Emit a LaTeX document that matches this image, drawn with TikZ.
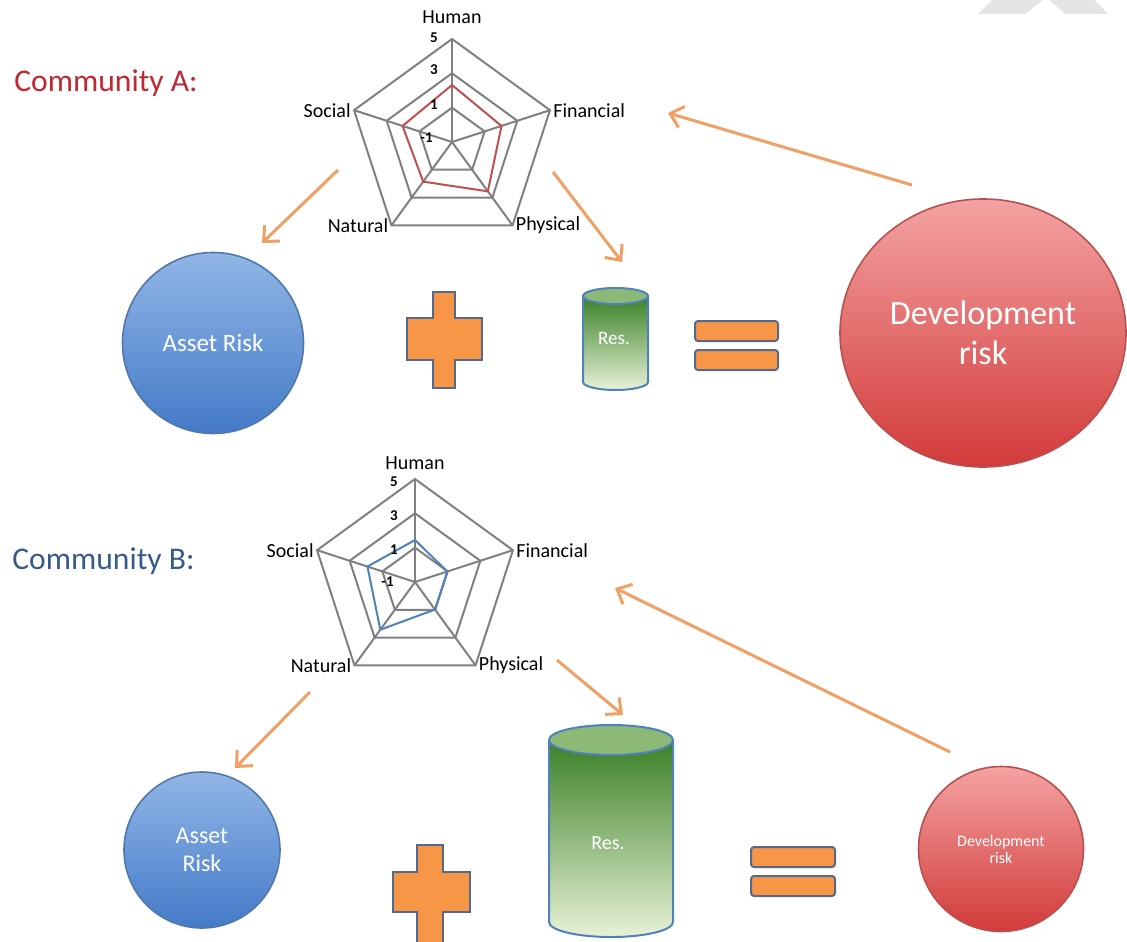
\documentclass[tikz,border=0pt]{standalone}
\usepackage{fontspec}
\setmainfont{Carlito}
\usetikzlibrary{arrows.meta,shapes.geometric}
\definecolor{gridgray}{RGB}{128,128,128}
\definecolor{serred}{RGB}{192,80,77}
\definecolor{serblue}{RGB}{79,129,189}
\definecolor{arrorange}{RGB}{240,160,100}
\definecolor{plusorange}{RGB}{247,150,70}
\definecolor{plusedge}{RGB}{85,105,140}
\definecolor{bluetop}{RGB}{145,182,230}
\definecolor{bluebot}{RGB}{68,122,200}
\definecolor{blueedge}{RGB}{80,120,170}
\definecolor{redtop}{RGB}{244,162,162}
\definecolor{redbot}{RGB}{210,58,58}
\definecolor{rededge}{RGB}{185,80,80}
\definecolor{greentop}{RGB}{58,128,38}
\definecolor{greenbot}{RGB}{232,242,216}
\definecolor{greencap}{RGB}{140,185,118}
\definecolor{cyledge}{RGB}{79,129,189}
\definecolor{commA}{RGB}{192,40,50}
\definecolor{commB}{RGB}{55,90,140}
\definecolor{wmgray}{RGB}{228,228,228}
\begin{document}
\begin{tikzpicture}[x=0.5pt,y=-0.5pt,
  gridline/.style={draw=gridgray, line width=1pt},
  axlab/.style={font=\fontsize{10}{12}\selectfont, inner sep=1.5pt},
  ticklab/.style={font=\fontsize{7.5}{8}\selectfont\bfseries, anchor=east, inner sep=0.5pt},
  arr/.style={draw=arrorange, line width=1.5pt, -{Straight Barb[length=6pt,width=11pt]}},
  bluecirc/.style={circle, draw=blueedge, line width=0.8pt, top color=bluetop, bottom color=bluebot, text=white, align=center, inner sep=0pt},
  redcirc/.style={ellipse, draw=rededge, line width=0.8pt, top color=redtop, bottom color=redbot, text=white, align=center, inner sep=0pt},
  opshape/.style={fill=plusorange, draw=plusedge, line width=1pt},
  cylbody/.style={top color=greentop, bottom color=greenbot, draw=cyledge, line width=1pt},
  cylcap/.style={fill=greencap, draw=cyledge, line width=1pt},
  restext/.style={text=white, inner sep=0pt},
  commlab/.style={anchor=west, font=\fontsize{15.8}{18}\selectfont, inner sep=0pt}
]
\useasboundingbox[fill=white] (0,0) rectangle (1127,941);

% faint watermark remnants (top right)
\fill[wmgray] (992,0) -- (978,14) -- (1025,14) -- (1043,0) -- cycle;
\fill[wmgray] (1049,0) -- (1066,14) -- (1108,14) -- (1094,0) -- cycle;

% community labels
\node[commlab, text=commA] (cA) at (14,83) {Community A:};
\node[commlab, text=commB] (cB) at (12,561) {Community B:};

% ---------- radar A ----------
\begin{scope}[shift={(452,142)}]
  \foreach \r in {34.3,68.7,103}
    \draw[gridline] (-90:\r) -- (-18:\r) -- (54:\r) -- (126:\r) -- (198:\r) -- cycle;
  \foreach \a in {-90,-18,54,126,198}
    \draw[gridline] (0,0) -- (\a:103);
  \draw[serred, line width=1pt] (-90:57) -- (-18:52) -- (54:61) -- (126:49) -- (198:52) -- cycle;
  \node[axlab] (hA) at (0,-125) {Human};
  \node[axlab, anchor=west] (fA) at (-18:103) {Financial};
  \node[axlab, anchor=west] (pA) at (54:103) {Physical};
  \node[axlab, anchor=east] (nA) at (126:103) {Natural};
  \node[axlab, anchor=east] (sA) at (198:103) {Social};
  \node[ticklab] (t5A) at (-13,-104) {5};
  \node[ticklab] (t3A) at (-13,-72) {3};
  \node[ticklab] (t1A) at (-13,-37) {1};
  \node[ticklab] (tm1A) at (-18,-4) {-1};
\end{scope}

% ---------- radar B ----------
\begin{scope}[shift={(415,582)}]
  \foreach \r in {34.3,68.7,103}
    \draw[gridline] (-90:\r) -- (-18:\r) -- (54:\r) -- (126:\r) -- (198:\r) -- cycle;
  \foreach \a in {-90,-18,54,126,198}
    \draw[gridline] (0,0) -- (\a:103);
  \draw[serblue, line width=1pt] (-90:42) -- (-18:34) -- (54:34) -- (126:59) -- (198:50) -- cycle;
  \node[axlab] (hB) at (0,-119) {Human};
  \node[axlab, anchor=west] (fB) at (-18:103) {Financial};
  \node[axlab, anchor=west] (pB) at (54:103) {Physical};
  \node[axlab, anchor=east] (nB) at (126:103) {Natural};
  \node[axlab, anchor=east] (sB) at (198:103) {Social};
  \node[ticklab] (t5B) at (-16,-100) {5};
  \node[ticklab] (t3B) at (-16,-66) {3};
  \node[ticklab] (t1B) at (-16,-32) {1};
  \node[ticklab] (tm1B) at (-20,0) {-1};
\end{scope}

% ---------- row A ----------
\node[bluecirc, minimum size=90.5pt, font=\fontsize{12.5}{15}\selectfont] (arA) at (213,343) {Asset Risk};
\draw[opshape] (433,292) -- (455,292) -- (455,318) -- (482,318) -- (482,360) -- (455,360)
  -- (455,388) -- (433,388) -- (433,360) -- (407,360) -- (407,318) -- (433,318) -- cycle;
\shade[cylbody] (583,296) -- (583,382) arc[start angle=180, end angle=360, x radius=16.25pt, y radius=4pt] -- (648,296) -- cycle;
\draw[cylcap] (615.5,296) ellipse [x radius=16.25pt, y radius=4pt];
\node[restext, font=\fontsize{9.5}{11}\selectfont] (resA) at (614,338) {Res.};
\draw[opshape, rounded corners=1.5pt] (695,321) rectangle (778,341);
\draw[opshape, rounded corners=1.5pt] (695,350) rectangle (778,370);
\node[redcirc, minimum width=143pt, minimum height=134pt, font=\fontsize{17}{20}\selectfont] (drA) at (983,333) {Development\\risk};

% ---------- row B ----------
\node[bluecirc, minimum size=78pt, font=\fontsize{12}{14}\selectfont] (arB) at (202,850) {Asset\\Risk};
\draw[opshape] (417,845) -- (443,845) -- (443,872) -- (470,872) -- (470,912) -- (443,912)
  -- (443,952) -- (417,952) -- (417,912) -- (393,912) -- (393,872) -- (417,872) -- cycle;
\shade[cylbody] (549,740) -- (549,922) arc[start angle=180, end angle=360, x radius=31pt, y radius=7.5pt] -- (673,740) -- cycle;
\draw[cylcap] (611,740) ellipse [x radius=31pt, y radius=7.5pt];
\node[restext, font=\fontsize{10}{12}\selectfont] (resB) at (608,843) {Res.};
\draw[opshape, rounded corners=1.5pt] (751,847) rectangle (835,867);
\draw[opshape, rounded corners=1.5pt] (751,876) rectangle (835,896);
\node[redcirc, minimum width=82.5pt, minimum height=82.5pt, font=\fontsize{8}{8.5}\selectfont] (drB) at (1001,849) {Development\\risk};

% ---------- arrows ----------
\coordinate (a1s) at (338,170); \coordinate (a1e) at (262,243);
\coordinate (a2s) at (553,172); \coordinate (a2e) at (622,262);
\coordinate (a3s) at (912,185); \coordinate (a3e) at (668,113);
\coordinate (b1s) at (310,692); \coordinate (b1e) at (235,768);
\coordinate (b2s) at (557,660); \coordinate (b2e) at (623,715);
\coordinate (b3s) at (950,752); \coordinate (b3e) at (615,588);
\draw[arr] (a1s) -- (a1e);
\draw[arr] (a2s) -- (a2e);
\draw[arr] (a3s) -- (a3e);
\draw[arr] (b1s) -- (b1e);
\draw[arr] (b2s) -- (b2e);
\draw[arr] (b3s) -- (b3e);
\end{tikzpicture}
\end{document}
